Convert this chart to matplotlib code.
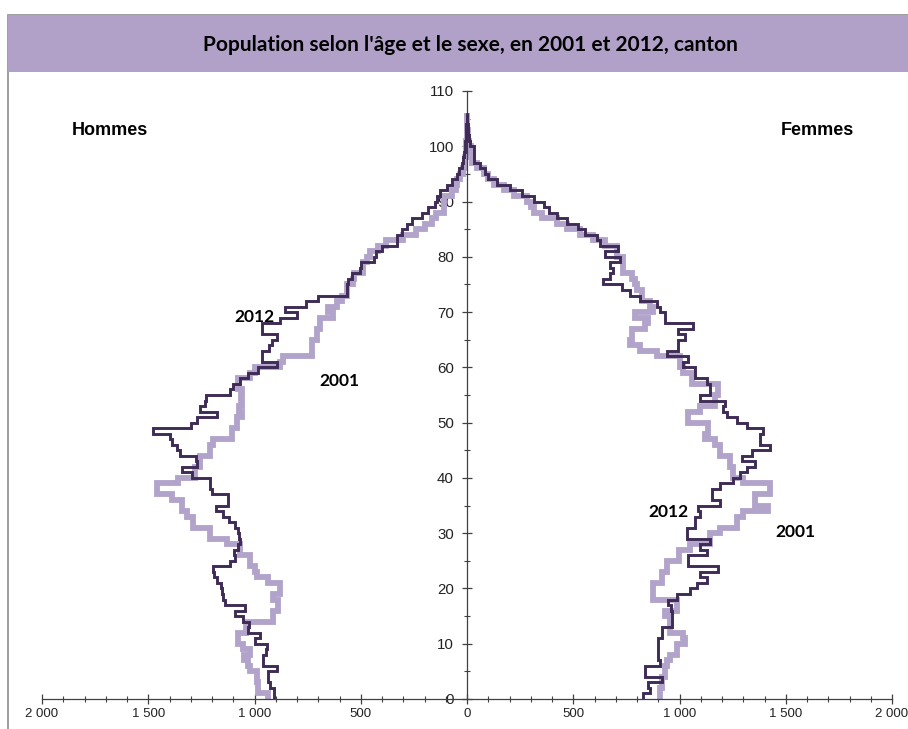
import numpy as np
import matplotlib
matplotlib.use("Agg")
import matplotlib.pyplot as plt
from matplotlib.patches import Rectangle
from matplotlib.ticker import MultipleLocator, FuncFormatter

ages = np.arange(0, 107)  # edges 0..106

men_2012 = [910, 910, 925, 935, 935, 895, 960, 960, 945, 940,
            1000, 975, 1030, 1025, 1055, 1090, 1045, 1140, 1150, 1155,
            1160, 1175, 1190, 1195, 1115, 1090, 1095, 1080, 1070, 1075,
            1080, 1090, 1120, 1150, 1180, 1125, 1125, 1200, 1210, 1210,
            1295, 1340, 1270, 1275, 1350, 1365, 1390, 1400, 1480, 1300,
            1270, 1175, 1255, 1235, 1230, 1115, 1100, 1070, 1030, 985,
            895, 965, 965, 930, 920, 895, 965, 965, 880, 800,
            855, 760, 700, 565, 565, 560, 540, 505, 500, 440,
            430, 400, 330, 330, 306, 282, 259, 212, 182, 149,
            140, 125, 94, 71, 47, 40, 24, 20, 15, 10,
            8, 5, 4, 3, 2, 1]

men_2001 = [936, 983, 983, 990, 990, 1020, 1030, 1050, 1020, 1054,
            1076, 1076, 1040, 1035, 913, 913, 889, 889, 913, 880,
            880, 936, 988, 1000, 1021, 1021, 1068, 1068, 1130, 1209,
            1209, 1288, 1288, 1318, 1341, 1341, 1388, 1459, 1459, 1360,
            1280, 1280, 1256, 1256, 1209, 1209, 1195, 1106, 1106, 1082,
            1082, 1060, 1075, 1060, 1065, 1060, 1076, 1076, 1021, 1000,
            880, 865, 730, 730, 730, 707, 707, 692, 692, 631,
            654, 612, 590, 565, 565, 536, 530, 488, 488, 470,
            456, 420, 380, 300, 238, 200, 165, 145, 110, 110,
            110, 70, 50, 45, 35, 20, 10, 8, 6, 5,
            3, 2, 1, 1, 0, 0]

women_2012 = [829, 861, 852, 917, 837, 837, 908, 900, 900, 900,
              900, 917, 917, 965, 965, 965, 960, 946, 988, 1049,
              1080, 1129, 1096, 1183, 1041, 1041, 1129, 1096, 1144, 1035,
              1035, 1073, 1073, 1096, 1088, 1191, 1152, 1152, 1191, 1253,
              1285, 1317, 1355, 1294, 1341, 1425, 1379, 1379, 1393, 1317,
              1270, 1223, 1206, 1214, 1096, 1144, 1144, 1129, 1073, 1073,
              1017, 1041, 941, 993, 993, 1025, 993, 1064, 932, 932,
              908, 894, 814, 767, 729, 640, 673, 687, 673, 720,
              649, 712, 626, 611, 556, 520, 470, 423, 384, 361,
              314, 259, 204, 141, 100, 86, 63, 35, 35, 31,
              12, 8, 5, 3, 1, 0]

women_2001 = [908, 908, 917, 917, 932, 932, 941, 955, 988, 988,
              1025, 1017, 955, 955, 955, 932, 988, 988, 876, 876,
              876, 917, 917, 941, 941, 997, 997, 1049, 1144, 1144,
              1191, 1270, 1270, 1300, 1417, 1355, 1355, 1426, 1426, 1300,
              1253, 1253, 1238, 1238, 1191, 1191, 1167, 1120, 1135, 1135,
              1041, 1041, 1096, 1167, 1167, 1183, 1183, 1057, 1057, 1017,
              1002, 1002, 894, 814, 767, 776, 776, 837, 852, 790,
              876, 861, 823, 823, 800, 790, 776, 735, 735, 735,
              706, 706, 650, 595, 532, 470, 423, 353, 314, 300,
              282, 220, 172, 125, 100, 78, 47, 25, 25, 20,
              10, 6, 3, 2, 1, 0]

x_ticks = [-2000, -1500, -1000, -500, 0, 500, 1000, 1500, 2000]
y_ticks = [0, 10, 20, 30, 40, 50, 60, 70, 80, 90, 100, 110]

title = "Population selon l'âge et le sexe, en 2001 et 2012, canton"

dark = "#3e2b56"
light = "#b2a3cb"
banner = "#b1a1c8"

fig = plt.figure(figsize=(9.08, 7.29), dpi=100)
W, H = 908, 729

# outer frame and banner
fig.patches.append(Rectangle((8 / W, -0.01), 1.0, (729 - 15) / H + 0.01, transform=fig.transFigure,
                             facecolor="none", edgecolor="#8c8c8c", linewidth=1.2, zorder=-1))
fig.patches.append(Rectangle((8 / W, (729 - 72) / H), 1.0, 57 / H, transform=fig.transFigure,
                             facecolor=banner, edgecolor="none", zorder=-1))
fig.text(470 / W, (729 - 45) / H, title, ha="center", va="center", fontsize=15,
         fontweight="bold", family=["Lato", "DejaVu Sans"], color="black")

ax = fig.add_axes([42 / W, (729 - 699) / H, 850 / W, 608 / H])
ax.set_facecolor("none")

ax.stairs(-np.array(men_2001), ages, orientation="horizontal", baseline=None,
          color=light, linewidth=4.2, zorder=2)
ax.stairs(np.array(women_2001), ages, orientation="horizontal", baseline=None,
          color=light, linewidth=4.2, zorder=2)
ax.stairs(-np.array(men_2012), ages, orientation="horizontal", baseline=None,
          color=dark, linewidth=2.1, zorder=3)
ax.stairs(np.array(women_2012), ages, orientation="horizontal", baseline=None,
          color=dark, linewidth=2.1, zorder=3)

ax.set_xlim(-2000, 2000)
ax.set_ylim(0, 110)

for s in ["top", "right"]:
    ax.spines[s].set_visible(False)
ax.spines["left"].set_position(("data", 0))
ax.spines["bottom"].set_position(("data", 0))
for s in ["left", "bottom"]:
    ax.spines[s].set_color("#404040")
    ax.spines[s].set_linewidth(0.9)

ax.set_xticks(x_ticks)
ax.set_yticks(y_ticks)
ax.xaxis.set_minor_locator(MultipleLocator(100))
ax.yaxis.set_minor_locator(MultipleLocator(5))
ax.xaxis.set_major_formatter(FuncFormatter(lambda v, p: f"{abs(int(v)):,}".replace(",", " ")))
ax.tick_params(axis="both", which="major", direction="inout", length=7, width=0.9,
               color="#404040", labelcolor="#222222")
ax.tick_params(axis="both", which="minor", direction="inout", length=5, width=0.8, color="#404040")
ax.tick_params(axis="x", labelsize=9.5, pad=3)
ax.tick_params(axis="y", labelsize=10.8, pad=6)
for lab in ax.get_xticklabels() + ax.get_yticklabels():
    lab.set_family(["Liberation Sans", "DejaVu Sans"])

ax.text(-1680, 102.9, "Hommes", ha="center", va="center", fontsize=13, fontweight="bold",
        family=["Liberation Sans", "DejaVu Sans"])
ax.text(1647, 102.9, "Femmes", ha="center", va="center", fontsize=13, fontweight="bold",
        family=["Liberation Sans", "DejaVu Sans"])
lab_kw = dict(ha="center", va="center", fontsize=12.5, fontweight="bold", family=["Lato", "DejaVu Sans"])
ax.text(-998, 69.1, "2012", **lab_kw)
ax.text(-598, 57.5, "2001", **lab_kw)
ax.text(946, 33.8, "2012", **lab_kw)
ax.text(1544, 30.2, "2001", **lab_kw)

fig.savefig("out.png", dpi=100)
